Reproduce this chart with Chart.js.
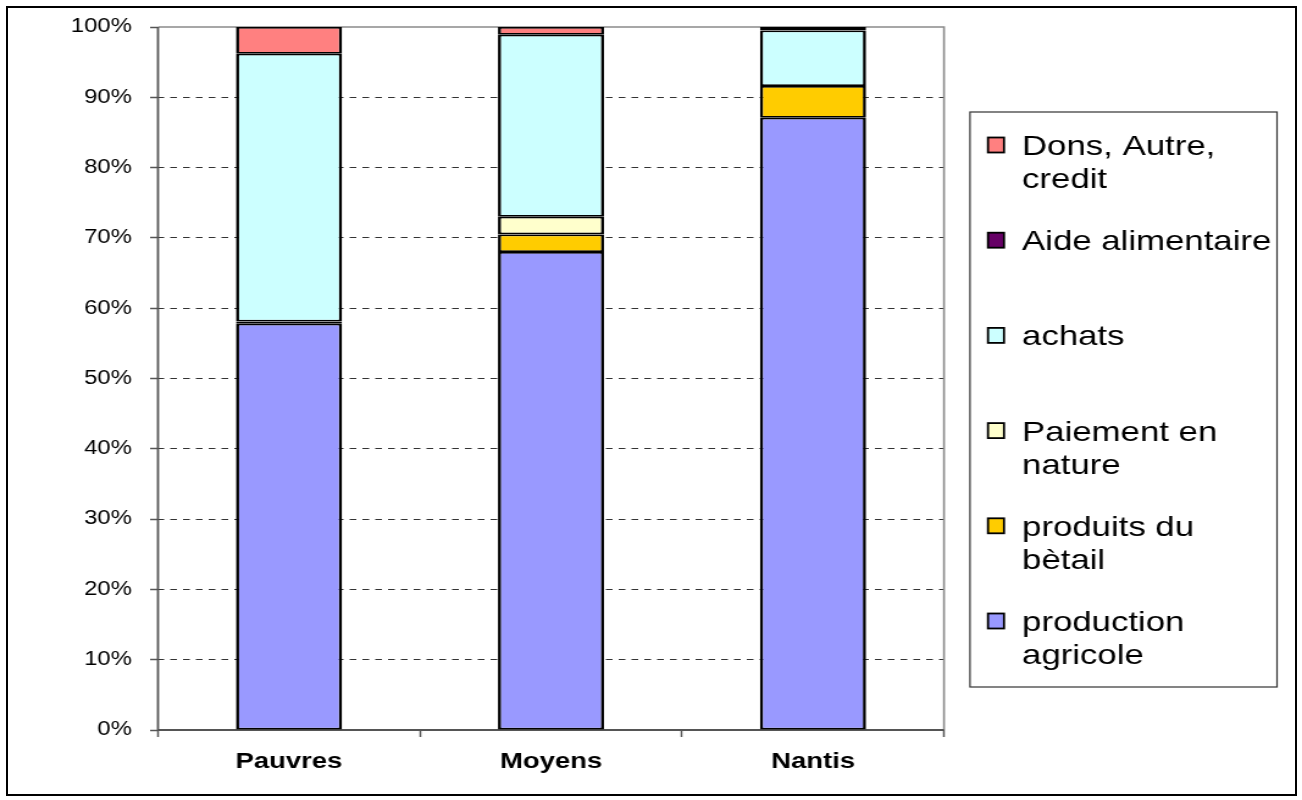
<!DOCTYPE html>
<html lang="fr">
<head>
<meta charset="utf-8">
<title>Sources de nourriture par groupe</title>
<script src="https://cdn.jsdelivr.net/npm/chart.js@4.4.1/dist/chart.umd.min.js"></script>
<style>
  html, body { margin: 0; padding: 0; background: #fff; }
  body { width: 1302px; height: 800px; position: relative; overflow: hidden; }
  #chart {
    position: absolute; left: 0; top: 0;
    transform: scaleX(1.22024); transform-origin: 0 0;
  }
  #frame {
    position: absolute; left: 6px; top: 6px; width: 1287px; height: 786px;
    border: 2px solid #000; pointer-events: none;
  }
</style>
</head>
<body>
<canvas id="chart" width="1067" height="800"></canvas>
<div id="frame"></div>
<script>
// Groups along the x axis
const categories = ['Pauvres', 'Moyens', 'Nantis'];

// Share of each food source, in percent (stacked from bottom to top)
const productionAgricole = [57.8, 68.0, 87.1];
const produitsBetail     = [0.0, 2.5, 4.5];
const paiementNature     = [0.0, 2.5, 0.0];
const aideAlimentaire    = [0.3, 0.0, 0.0];
const achats             = [38.1, 25.9, 7.9];
const donsAutreCredit    = [3.8, 1.1, 0.5];

// Legend text, one entry per series (wrapped lines)
const seriesLabels = [
  ['production', 'agricole'],
  ['produits du', 'bètail'],
  ['Paiement en', 'nature'],
  ['Aide alimentaire'],
  ['achats'],
  ['Dons, Autre,', 'credit']
];

// Order of the series in the legend box, top to bottom
const legendOrder = [5, 3, 4, 2, 1, 0];

// Y axis ticks
const yTicks = [0, 10, 20, 30, 40, 50, 60, 70, 80, 90, 100];
const yTickLabels = yTicks.map(v => v + '%');

const seriesValues = [productionAgricole, produitsBetail, paiementNature, aideAlimentaire, achats, donsAutreCredit];
const seriesColors = ['#9999FF', '#FFCC00', '#FFFFCC', '#660066', '#CCFFFF', '#FF8080'];

// The canvas is stretched horizontally by CSS; convert page x to canvas x
const SX = 1302 / 1067;
const cx = px => px / SX;

Chart.defaults.font.family = '"Liberation Sans", Arial, Helvetica, sans-serif';
Chart.defaults.color = '#000';

// Plot frame: grey top/right edges, darker axis lines on the left and bottom
const plotFrame = {
  id: 'plotFrame',
  beforeDatasetsDraw(chart) {
    const { ctx, chartArea: a } = chart;
    ctx.save();
    ctx.lineWidth = 1.6;
    ctx.strokeStyle = '#8a8a8a';
    ctx.beginPath();
    ctx.moveTo(a.left, a.top);
    ctx.lineTo(a.right, a.top);
    ctx.lineTo(a.right, a.bottom);
    ctx.stroke();
    ctx.strokeStyle = '#555';
    ctx.lineWidth = 1.8;
    ctx.beginPath();
    ctx.moveTo(a.left, a.top);
    ctx.lineTo(a.left, a.bottom);
    ctx.lineTo(a.right, a.bottom);
    ctx.stroke();
    ctx.restore();
  }
};

// Boxed legend on the right
const boxLegend = {
  id: 'boxLegend',
  afterDraw(chart) {
    const { ctx } = chart;
    const left = cx(970), right = cx(1277), top = 112, bottom = 687;
    ctx.save();
    ctx.strokeStyle = '#333';
    ctx.lineWidth = 1.2;
    ctx.strokeRect(left, top, right - left, bottom - top);
    ctx.font = '28.5px "Liberation Sans", Arial, sans-serif';
    ctx.textBaseline = 'alphabetic';
    ctx.textAlign = 'left';
    const ds = chart.data.datasets;
    legendOrder.forEach((i, k) => {
      const yc = 145 + k * 95.2;
      ctx.fillStyle = ds[i].backgroundColor;
      ctx.fillRect(cx(988), yc - 7.5, cx(16), 15);
      ctx.strokeStyle = '#000';
      ctx.lineWidth = 1.8;
      ctx.strokeRect(cx(988), yc - 7.5, cx(16), 15);
      ctx.fillStyle = '#000';
      seriesLabels[i].forEach((line, j) => {
        ctx.fillText(line, cx(1022), yc + 10 + j * 33);
      });
    });
    ctx.restore();
  }
};

new Chart(document.getElementById('chart'), {
  type: 'bar',
  data: {
    labels: categories,
    datasets: seriesValues.map((vals, i) => ({
      label: seriesLabels[i].join(' '),
      data: vals,
      backgroundColor: seriesColors[i],
      borderColor: '#000',
      borderWidth: { left: 2.6, right: 2.6, top: 1.8, bottom: 1.8 },
      borderSkipped: false,
      inflateAmount: 0,
      barPercentage: 0.405,
      categoryPercentage: 1.0
    }))
  },
  options: {
    responsive: false,
    animation: false,
    layout: { padding: { left: 0, top: 27, right: 1067 - cx(944), bottom: 0 } },
    plugins: {
      legend: { display: false },
      tooltip: { enabled: false }
    },
    scales: {
      x: {
        stacked: true,
        offset: true,
        border: { display: false },
        grid: {
          offset: true,
          drawOnChartArea: false,
          drawTicks: true,
          tickLength: 7,
          tickColor: '#555',
          tickWidth: 1.5
        },
        ticks: {
          padding: 11,
          font: { size: 22.5, weight: 'bold' },
          color: '#000'
        },
        afterFit(scale) { scale.height = 70; }
      },
      y: {
        stacked: true,
        min: 0,
        max: 100,
        border: { display: false, dash: [5.5, 5] },
        afterBuildTicks(scale) { scale.ticks = yTicks.map(v => ({ value: v })); },
        ticks: {
          padding: 15,
          font: { size: 19.5 },
          color: '#000',
          callback: (v) => yTickLabels[yTicks.indexOf(v)]
        },
        grid: {
          color: c => (c.tick && (c.tick.value === 0 || c.tick.value === 100)) ? 'rgba(0,0,0,0)' : '#333',
          lineWidth: 1,
          tickLength: 6.5,
          tickColor: '#555',
          tickWidth: 1.5
        },
        afterFit(scale) { scale.width = cx(158); }
      }
    }
  },
  plugins: [plotFrame, boxLegend]
});
</script>
</body>
</html>
